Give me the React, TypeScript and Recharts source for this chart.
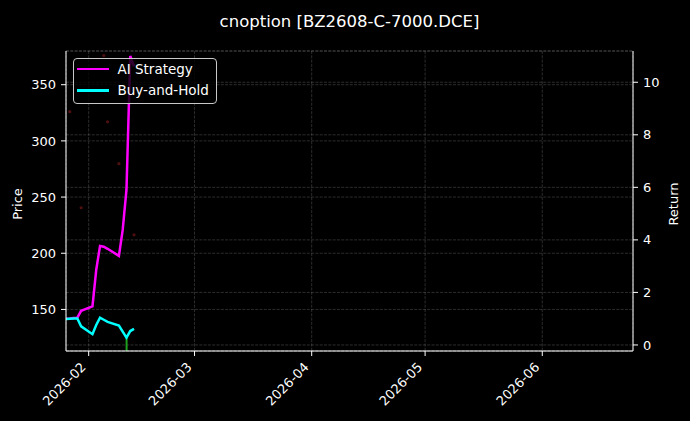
import React from 'react';
import {
  ComposedChart,
  Line,
  Bar,
  Scatter,
  XAxis,
  YAxis,
  CartesianGrid,
  Legend,
} from 'recharts';

// ---- data ----
const tradeDates = [
  '2026-01-26', '2026-01-27', '2026-01-28', '2026-01-29', '2026-01-30',
  '2026-02-02', '2026-02-03', '2026-02-04', '2026-02-05', '2026-02-06',
  '2026-02-09', '2026-02-10', '2026-02-11', '2026-02-12', '2026-02-13',
];
const aiStrategy = [1.0, 1.01, 1.03, 1.04, 1.3, 1.47, 2.86, 3.77, 3.74, 3.66, 3.39, 4.38, 5.91, 11.0, 10.6];
const buyAndHold = [0.99, 1.0, 1.01, 1.01, 0.71, 0.41, 0.76, 1.04, 0.96, 0.88, 0.74, 0.51, 0.28, 0.53, 0.61];

const signalDates = ['2026-02-11'];
const signalPrices = [125];

const dotDates = ['2026-01-27', '2026-01-30', '2026-02-05', '2026-02-06', '2026-02-09', '2026-02-13'];
const dotPrices = [326, 240.5, 376, 317, 279.7, 216.4];

const monthTicks = ['2026-02-01', '2026-03-01', '2026-04-01', '2026-05-01', '2026-06-01'];
const priceTicks = [150, 200, 250, 300, 350];
const returnTicks = [0, 2, 4, 6, 8, 10];

const xStart = '2026-01-26';
const xEnd = '2026-06-25';
const priceDomain = [113, 380];
const returnDomain = [-0.23, 11.19];

const TITLE = 'cnoption [BZ2608-C-7000.DCE]';

// ---- helpers ----
const toT = (s: string) => {
  const [y, m, d] = s.split('-').map(Number);
  return Date.UTC(y, m - 1, d);
};
const fmtMonth = (t: number) => {
  const d = new Date(t);
  return `${d.getUTCFullYear()}-${String(d.getUTCMonth() + 1).padStart(2, '0')}`;
};

const data = tradeDates.map((d, i) => {
  const si = signalDates.indexOf(d);
  return {
    t: toT(d),
    ai: aiStrategy[i],
    bh: buyAndHold[i],
    signal: si >= 0 ? signalPrices[si] : null,
  };
});
const dotData = dotDates.map((d, i) => ({ t: toT(d), price: dotPrices[i] }));

const FONT = '"DejaVu Sans", sans-serif';
const AI_COLOR = '#ff00ff';
const BH_COLOR = '#00ffff';
const GRID_OPACITY = 0.22;
const TICK_FS = 13;

const XTick = (props: any) => {
  const { x, y, payload } = props;
  const px = x - 2;
  const py = y + 12;
  return (
    <text
      x={px}
      y={py}
      transform={`rotate(-45 ${px} ${py})`}
      textAnchor="end"
      fill="#ffffff"
      fontSize={TICK_FS}
      fontFamily={FONT}
    >
      {fmtMonth(payload.value)}
    </text>
  );
};

const legendItems = [
  { label: 'AI Strategy', color: AI_COLOR },
  { label: 'Buy-and-Hold', color: BH_COLOR },
];

const renderLegend = () => (
  <div
    style={{
      position: 'relative',
      width: 144,
      height: 46,
      boxSizing: 'border-box',
      border: '1px solid #c8c8c8',
      borderRadius: 4,
      background: 'rgba(0,0,0,0.8)',
      fontFamily: FONT,
      fontSize: 13.5,
      color: '#ffffff',
    }}
  >
    {legendItems.map((it, i) => (
      <div
        key={it.label}
        style={{
          position: 'absolute',
          left: 2.5,
          top: 2 + i * 21.4,
          height: 16,
          display: 'flex',
          alignItems: 'center',
          whiteSpace: 'nowrap',
        }}
      >
        <div style={{ width: 32, height: 2.6, background: it.color }} />
        <span style={{ marginLeft: 9, lineHeight: '16px' }}>{it.label}</span>
      </div>
    ))}
  </div>
);

const DotShape = (props: any) => {
  const { cx, cy } = props;
  if (cx == null || cy == null || isNaN(cx) || isNaN(cy)) return <g />;
  return <circle cx={cx} cy={cy} r={1.6} fill="#b22222" fillOpacity={0.45} />;
};

export default function App() {
  const tickStyle = { fill: '#ffffff', fontSize: TICK_FS, fontFamily: FONT };
  return (
    <div
      style={{
        position: 'fixed',
        left: 0,
        top: 0,
        width: 690,
        height: 421,
        background: '#000000',
      }}
    >
      <ComposedChart
        width={690}
        height={421}
        data={data}
        margin={{ top: 51, right: 17, bottom: 10, left: 16 }}
        style={{ background: '#000000' }}
      >
        <CartesianGrid
          yAxisId="left"
          stroke="#ffffff"
          strokeOpacity={GRID_OPACITY}
          strokeWidth={0.8}
          strokeDasharray="3 1.3"
        />
        <CartesianGrid
          yAxisId="right"
          vertical={false}
          stroke="#ffffff"
          strokeOpacity={GRID_OPACITY}
          strokeWidth={0.8}
          strokeDasharray="3 1.3"
        />
        <XAxis
          dataKey="t"
          type="number"
          scale="linear"
          domain={[toT(xStart), toT(xEnd)]}
          allowDataOverflow
          ticks={monthTicks.map(toT)}
          interval={0}
          tick={<XTick />}
          tickSize={5}
          tickMargin={0}
          height={60}
          stroke="#ffffff"
          tickLine={{ stroke: '#ffffff' }}
          axisLine={{ stroke: '#ffffff' }}
        />
        <XAxis
          xAxisId="top"
          orientation="top"
          type="number"
          domain={[toT(xStart), toT(xEnd)]}
          allowDataOverflow
          tick={false}
          tickLine={false}
          height={0}
          axisLine={{ stroke: '#ffffff' }}
        />
        <YAxis
          yAxisId="left"
          orientation="left"
          type="number"
          domain={priceDomain}
          allowDataOverflow
          ticks={priceTicks}
          interval={0}
          width={50}
          tickSize={5}
          tickMargin={5}
          tick={tickStyle}
          tickLine={{ stroke: '#ffffff' }}
          axisLine={{ stroke: '#ffffff' }}
        />
        <YAxis
          yAxisId="right"
          orientation="right"
          type="number"
          domain={returnDomain}
          allowDataOverflow
          ticks={returnTicks}
          interval={0}
          width={40}
          tickSize={5}
          tickMargin={5}
          tick={tickStyle}
          tickLine={{ stroke: '#ffffff' }}
          axisLine={{ stroke: '#ffffff' }}
        />
        <Scatter
          yAxisId="left"
          data={dotData}
          dataKey="price"
          shape={<DotShape />}
          isAnimationActive={false}
          legendType="none"
        />
        <Bar
          yAxisId="left"
          dataKey="signal"
          barSize={2}
          fill="#1f9f1f"
          isAnimationActive={false}
          legendType="none"
        />
        <Line
          yAxisId="right"
          dataKey="ai"
          name="AI Strategy"
          stroke={AI_COLOR}
          strokeWidth={2.5}
          dot={false}
          activeDot={false}
          isAnimationActive={false}
        />
        <Line
          yAxisId="right"
          dataKey="bh"
          name="Buy-and-Hold"
          stroke={BH_COLOR}
          strokeWidth={2.5}
          dot={false}
          activeDot={false}
          isAnimationActive={false}
        />
        <Legend
          layout="horizontal"
          verticalAlign="middle"
          align="center"
          content={renderLegend}
          wrapperStyle={{ position: 'absolute', left: 73, top: 58, width: 144, height: 46 }}
        />
      </ComposedChart>
      <svg
        width={690}
        height={421}
        style={{ position: 'absolute', left: 0, top: 0, pointerEvents: 'none' }}
      >
        <text x={349.5} y={27} textAnchor="middle" fill="#ffffff" fontSize={16.5} fontFamily={FONT}>
          {TITLE}
        </text>
        <text
          x={22}
          y={204}
          transform="rotate(-90 22 204)"
          textAnchor="middle"
          fill="#ffffff"
          fontSize={13}
          fontFamily={FONT}
        >
          Price
        </text>
        <text
          x={678}
          y={204}
          transform="rotate(-90 678 204)"
          textAnchor="middle"
          fill="#ffffff"
          fontSize={13}
          fontFamily={FONT}
        >
          Return
        </text>
      </svg>
    </div>
  );
}
